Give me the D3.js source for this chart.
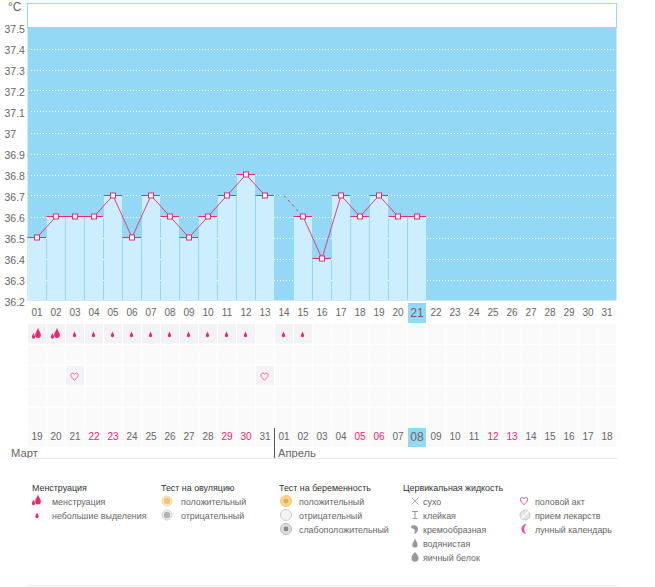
<!DOCTYPE html>
<html><head><meta charset="utf-8">
<script src="https://cdn.jsdelivr.net/npm/d3@7/dist/d3.min.js"></script>
<style>
html,body{margin:0;padding:0;background:#fff;overflow:hidden}
text{font-family:"Liberation Sans","DejaVu Sans",sans-serif;font-size:8.9px}
.axis path,.axis line{display:none}
</style></head><body><svg id="c" width="655" height="587"></svg>
<script>
const cycleDays=["01","02","03","04","05","06","07","08","09","10","11","12","13","14","15","16","17","18","19","20","21","22","23","24","25","26","27","28","29","30","31"];
const calendarDates=["19","20","21","22","23","24","25","26","27","28","29","30","31","01","02","03","04","05","06","07","08","09","10","11","12","13","14","15","16","17","18"];
const redDates=[3,4,10,11,17,18,24,25];
const temperatures=[36.5,36.6,36.6,36.6,36.7,36.5,36.7,36.6,36.5,36.6,36.7,36.8,36.7,36.7,36.6,36.4,36.7,36.6,36.7,36.6,36.6];
const missingDay=13;
const tempTicks=[37.5,37.4,37.3,37.2,37.1,37,36.9,36.8,36.7,36.6,36.5,36.4,36.3,36.2];
const spotting=[0,1,2,3,4,5,6,7,8,9,10,11,13,14];
const heavyFlow=[0,1];
const intercourse=[2,12];
const rows=[0,1,2,3,4];
const months=[["Март",0],["Апрель",13]];
const today=20;

const BLUE="#93d8f5",BAR="#cdeeff",PINK="#f0286a",INK="#666";
const svg=d3.select("#c");
const x=d3.scaleBand().domain(d3.range(31)).range([27.5,616.5]);
const y=d3.scaleLinear().domain([36.2,37.5]).range([300.5,27.5]);
const rowY=d3.scaleBand().domain(rows).range([323.5,428.5]);
const cx=i=>x(i)+x.bandwidth()/2;

svg.append("rect").attr("x",27.5).attr("y",3.5).attr("width",589).attr("height",24).attr("fill","#fff").attr("stroke",BLUE);
svg.append("rect").attr("x",27.5).attr("y",y(37.5)).attr("width",589).attr("height",y(36.2)-y(37.5)).attr("fill",BLUE);

svg.append("g").selectAll("line").data(tempTicks.filter(t=>t<37.5)).join("line")
 .attr("x1",31).attr("x2",616).attr("y1",d=>Math.round(y(d))+.5).attr("y2",d=>Math.round(y(d))+.5)
 .attr("stroke","#fff").attr("stroke-dasharray","1 2");

svg.append("g").selectAll("rect").data(temperatures.map((v,i)=>({v,i})).filter(d=>d.i!==missingDay)).join("rect")
 .attr("x",d=>x(d.i)+.5).attr("width",18).attr("y",d=>y(d.v)).attr("height",d=>y(36.2)-y(d.v)).attr("fill",BAR);

const line=d3.line().x(d=>cx(d.i)).y(d=>y(d.v));
const pts=temperatures.map((v,i)=>({v,i}));
const ln=(data,dash)=>svg.append("path").attr("d",line(data)).attr("fill","none").attr("stroke",PINK).attr("stroke-width",.9).attr("stroke-dasharray",dash||null);
ln(pts.slice(0,13));
ln(pts.slice(14));
ln(pts.slice(13,15),"3 3");

const markers=pts.filter(d=>d.i!==missingDay);
svg.append("g").selectAll("line").data(markers).join("line")
 .attr("x1",d=>x(d.i)).attr("x2",d=>x(d.i)+18.5).attr("y1",d=>y(d.v)).attr("y2",d=>y(d.v))
 .attr("stroke",PINK).attr("stroke-width",1);
svg.append("g").selectAll("rect").data(markers).join("rect")
 .attr("x",d=>cx(d.i)-2.5).attr("y",d=>y(d.v)-2.5).attr("width",5).attr("height",5)
 .attr("fill",d=>d.i===today?BAR:"#fff").attr("stroke",PINK);

const ya=svg.append("g").attr("class","axis").call(d3.axisLeft(y).tickValues(tempTicks).tickFormat(d=>String(d)).tickSize(0));
ya.selectAll("text").attr("x",4.5).attr("dy",".32em").attr("y",2).attr("text-anchor","start").attr("fill",INK).style("font-size","10.5px");
svg.append("text").attr("x",8).attr("y",11).attr("fill",INK).style("font-size","12px").text("°C");

svg.append("rect").attr("x",x(today)+.5).attr("y",303).attr("width",18).attr("height",20).attr("fill",BLUE);

const xa=svg.append("g").attr("class","axis").attr("transform","translate(0,308.5)")
 .call(d3.axisBottom(x).tickFormat(i=>cycleDays[i]).tickSize(0).tickPadding(0));
xa.selectAll("text").attr("y",0).attr("dy",".72em").attr("fill",INK).style("font-size","10px");
xa.selectAll("text").filter(i=>i===today).attr("y",-.5).style("font-size","12px");

const filled=new Set([...spotting.map(i=>"0-"+i),...intercourse.map(i=>"2-"+i)]);
const cells=rows.flatMap(r=>d3.range(31).map(i=>({r,i})));
svg.append("g").selectAll("rect").data(cells).join("rect")
 .attr("x",d=>x(d.i)+.5).attr("width",18).attr("y",d=>rowY(d.r)+.5).attr("height",19.5)
 .attr("fill",d=>filled.has(d.r+"-"+d.i)?"#f3f3f5":"#fafafb");
svg.append("g").selectAll("rect").data(d3.range(31)).join("rect")
 .attr("x",i=>x(i)+.5).attr("width",18).attr("y",428).attr("height",19).attr("fill",i=>i===today?BLUE:"#fafafb");

const dropD="M0,-5C.4,-2.6 2.2,-1 2.2,.8A2.2,2.2 0 0 1 -2.2,.8C-2.2,-1 -.4,-2.6 0,-5Z";
const heart="M0,3.6C-5.4,-.4 -3.6,-3.8 -1.6,-3.4C-.7,-3.2 -.2,-2.6 0,-2C.2,-2.6 .7,-3.2 1.6,-3.4C3.6,-3.8 5.4,-.4 0,3.6Z";
const rowsG=svg.append("g");
const drop=(sc)=>rowsG.append("path").attr("d",dropD).attr("transform",sc).attr("fill",PINK);
spotting.filter(i=>!heavyFlow.includes(i)).forEach(i=>drop(`translate(${cx(i)-.5},${rowY(0)+11.5}) scale(.75)`));
heavyFlow.forEach(i=>{
 drop(`translate(${cx(i)+1},${rowY(0)+10.5}) scale(1.3)`);
 drop(`translate(${cx(i)-3.5},${rowY(0)+13}) scale(.75)`);
});
rowsG.selectAll("path.h").data(intercourse).join("path").attr("class","h").attr("d",heart)
 .attr("transform",i=>`translate(${cx(i)-.5},${rowY(2)+11})`).attr("fill","none").attr("stroke","#f36a9a");

const xb=svg.append("g").attr("class","axis").attr("transform","translate(0,433)")
 .call(d3.axisBottom(x).tickFormat(i=>calendarDates[i]).tickSize(0).tickPadding(0));
xb.selectAll("text").attr("y",0).attr("dy",".72em").attr("fill",i=>redDates.includes(i)?PINK:INK).style("font-size","10px");
xb.selectAll("text").filter(i=>i===today).attr("y",-.5).style("font-size","12px");

svg.append("line").attr("x1",274.5).attr("x2",274.5).attr("y1",428).attr("y2",458).attr("stroke","#555");
svg.append("text").attr("x",11).attr("y",457).attr("fill",INK).style("font-size","11.2px").text(months[0][0]);
svg.append("text").attr("x",278).attr("y",457).attr("fill",INK).style("font-size","11.2px").text(months[1][0]);
svg.append("line").attr("x1",27).attr("x2",617).attr("y1",458.5).attr("y2",458.5).attr("stroke","#e6e6e6");
svg.append("line").attr("x1",27).attr("x2",617).attr("y1",585.5).attr("y2",585.5).attr("stroke","#eee");

const legendHeads=[["Менструация",32],["Тест на овуляцию",161],["Тест на беременность",279],["Цервикальная жидкость",403]];
const legendItems=[
 ["менструация",52,501,"flow",37],["небольшие выделения",52,515,"spot",37],
 ["положительный",181,501,"ovuP",167],["отрицательный",181,515,"ovuN",167],
 ["положительный",299,501,"pregP",286],["отрицательный",299,515,"pregN",286],["слабоположительный",299,529,"pregW",286],
 ["сухо",423,501,"dry",415],["клейкая",423,515,"sticky",415],["кремообразная",423,529,"cream",415],["водянистая",423,543,"water",415],["яичный белок",423,557,"egg",415],
 ["половой акт",535,501,"heart",524],["прием лекарств",535,515,"pill",525],["лунный календарь",535,529,"moon",524]];
const lg=svg.append("g");
lg.selectAll("text.h").data(legendHeads).join("text").attr("class","h").attr("x",d=>d[1]).attr("y",490.5).attr("fill","#333").text(d=>d[0]);
lg.selectAll("text.i").data(legendItems).join("text").attr("class","i").attr("x",d=>d[1]).attr("y",d=>d[2]+3.5).attr("fill",INK).text(d=>d[0]);
const G="#999";
legendItems.forEach(d=>{
 const g=lg.append("g").attr("transform",`translate(${d[4]},${d[2]})`);
 const circ=(r,f,s)=>g.append("circle").attr("r",r).attr("fill",f).attr("stroke",s||"none");
 const gd=(sc,c)=>g.append("path").attr("d",dropD).attr("transform",sc).attr("fill",c);
 switch(d[3]){
  case "flow": gd("translate(1,-.5) scale(1.3)",PINK); gd("translate(-3.5,2) scale(.75)",PINK); break;
  case "spot": gd("translate(0,1) scale(.75)",PINK); break;
  case "ovuP": circ(5,"#fdeac8","#f6d79a"); circ(3.2,"#f6c272"); break;
  case "ovuN": circ(5,"#f0f0f0","#d4d4d4"); circ(3.2,"#b4b4b4"); break;
  case "pregP": circ(5.5,"#fbd48a","#f5c878"); circ(2.4,"#e0aa60"); break;
  case "pregN": circ(5.5,"#f4f4f4","#ccc"); break;
  case "pregW": circ(5.5,"#ddd","#bbb"); circ(2.4,"#888"); break;
  case "dry": g.append("path").attr("d","M-3.5,-3.5L3.5,3.5M3.5,-3.5L-3.5,3.5").attr("stroke",G).attr("fill","none").attr("stroke-width",.8); break;
  case "sticky": g.append("path").attr("d","M-3,-3.5H3M0,-3.5V3.5M-2.5,3.5H2.5").attr("stroke",G).attr("fill","none"); break;
  case "cream": g.append("path").attr("d","M-4,-3C-1,-5 4,-3 3,1C2.5,3 1,4.5 -1,5C0,3 0,1 -1,0C-3,0 -4,-1 -4,-3Z").attr("fill",G); break;
  case "water": gd("translate(0,1) scale(1.2)",G); break;
  case "egg": g.append("path").attr("d","M0,-5C2,-3 3.5,-1 3.5,1A3.5,3.8 0 0 1 -3.5,1C-3.5,-1 -2,-3 0,-5Z").attr("fill",G); break;
  case "heart": g.append("path").attr("d",heart).attr("fill","none").attr("stroke","#f0507f"); break;
  case "pill": circ(5,"#e4e4e4","#ccc"); g.append("path").attr("d","M-3.5,3.5L3.5,-3.5").attr("stroke","#fff").attr("stroke-width",1.2); break;
  case "moon": g.append("path").attr("d","M2.5,-5A5,5 0 1 0 2.5,5A6.5,6.5 0 0 1 2.5,-5Z").attr("fill","#f0507f"); break;
 }
});
</script></body></html>
